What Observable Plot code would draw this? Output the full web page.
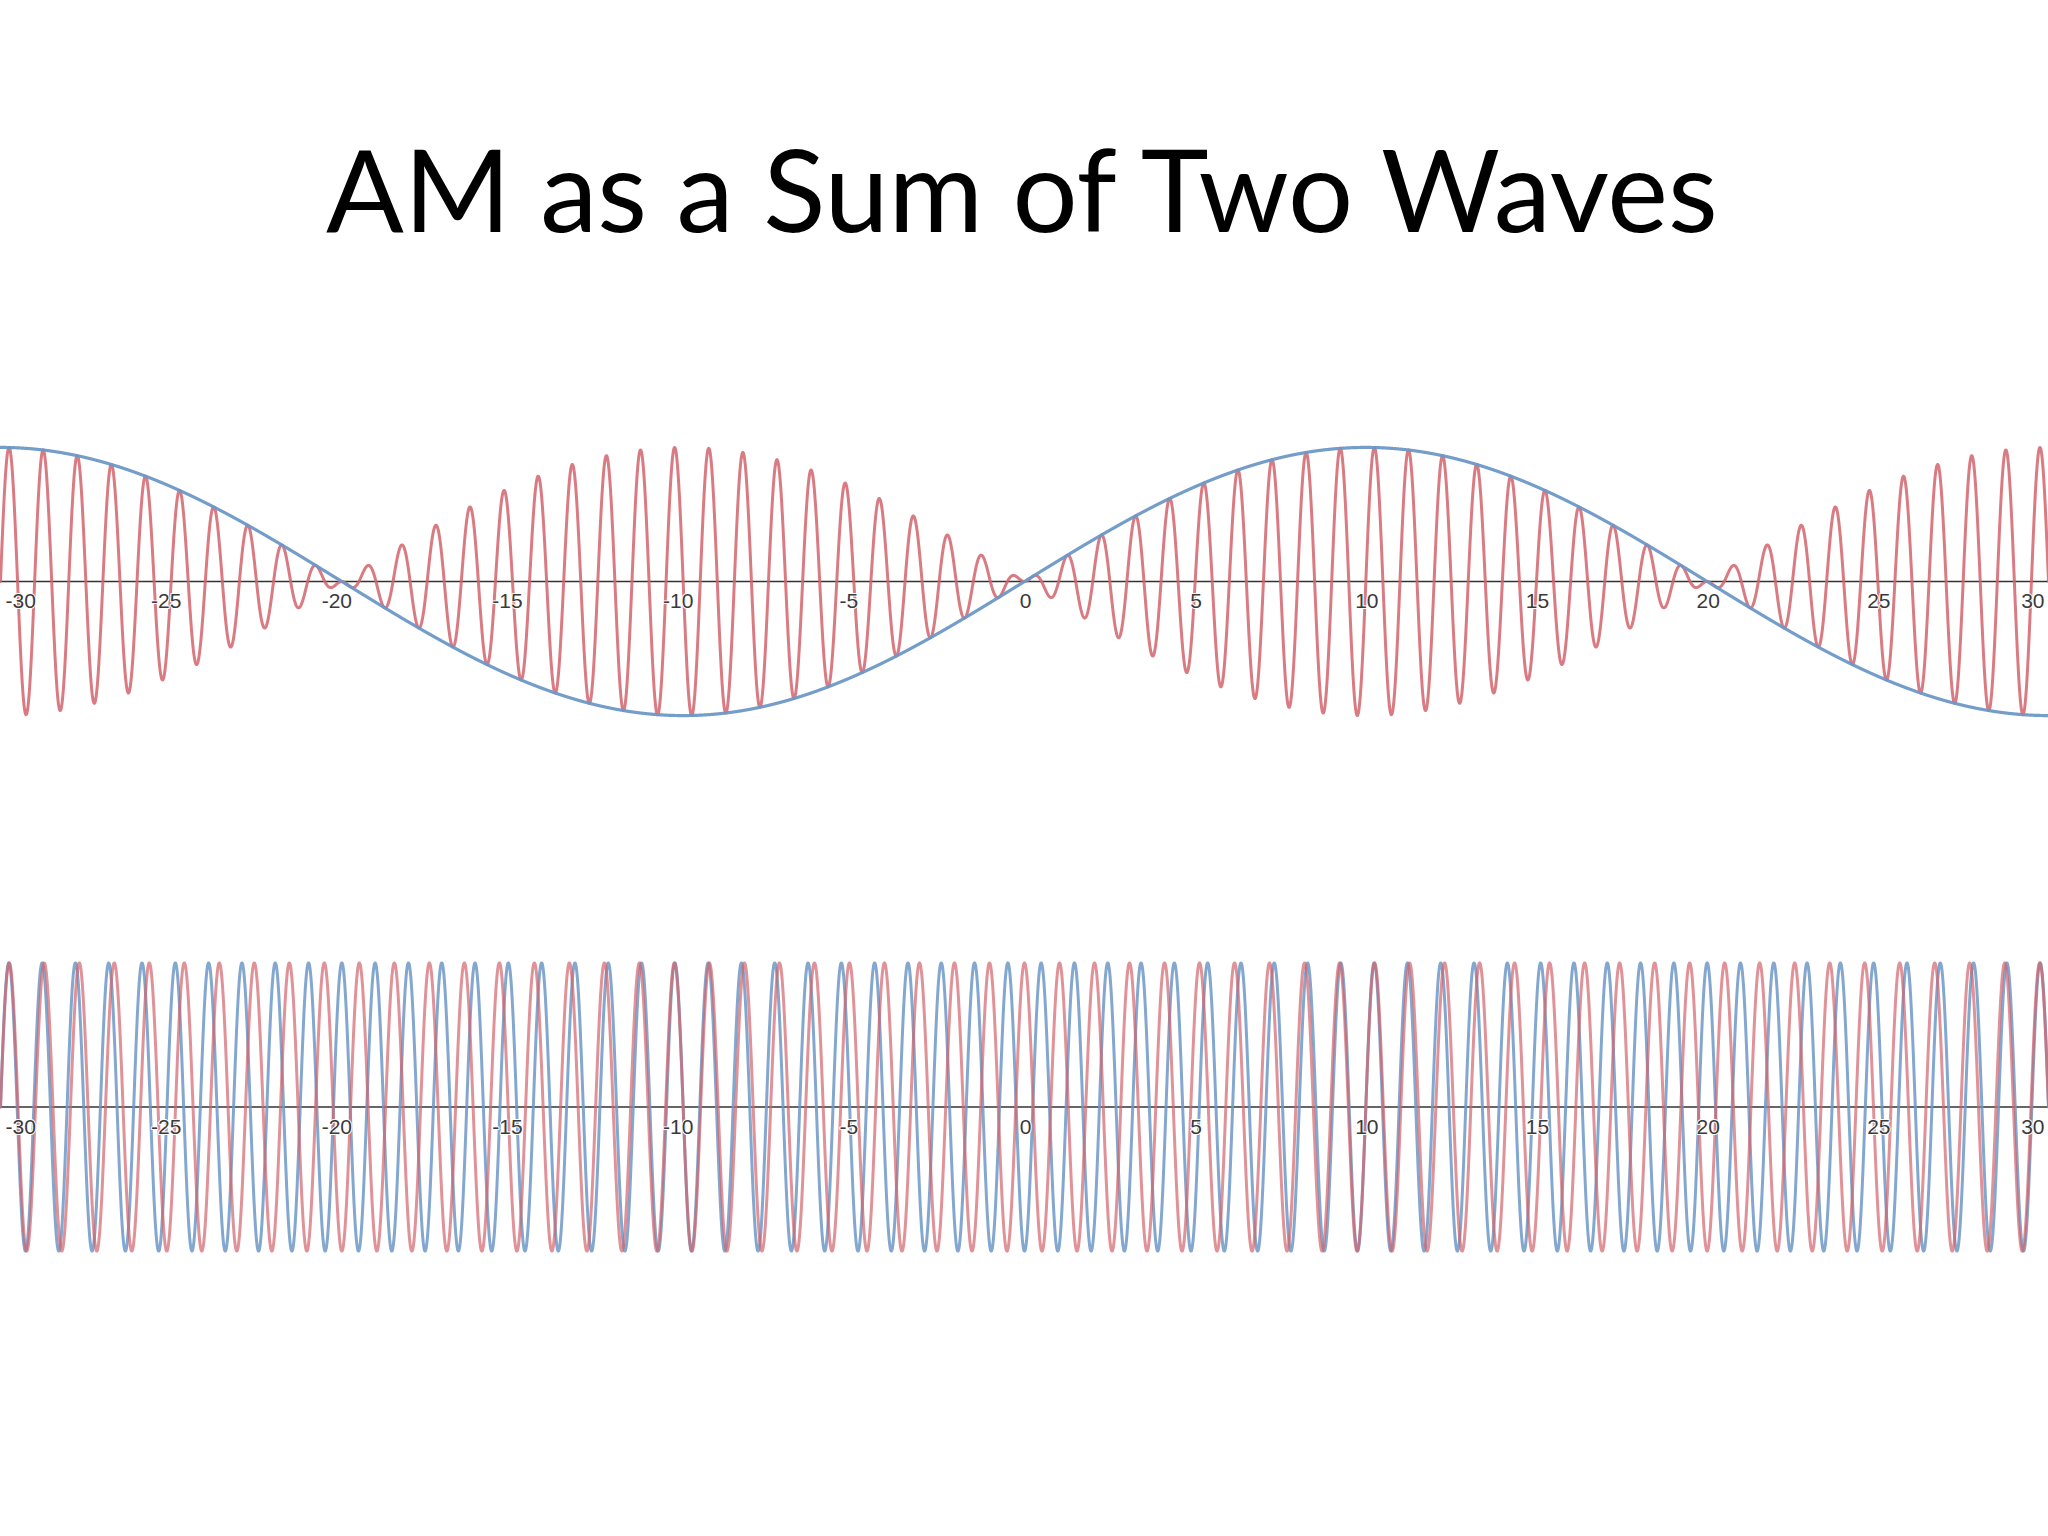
<!DOCTYPE html>
<html>
<head>
<meta charset="utf-8">
<script src="https://cdn.jsdelivr.net/npm/d3@7"></script>
<script src="https://cdn.jsdelivr.net/npm/@observablehq/plot@0.6"></script>
<style>
  html, body { margin: 0; padding: 0; background: #fff; width: 2048px; height: 1536px; overflow: hidden; }
  #title { position: absolute; left: 0; top: 0; }
  #top { position: absolute; left: 0; top: 400px; }
  #bottom { position: absolute; left: 0; top: 912px; }
</style>
</head>
<body>
<svg id="title" width="2048" height="300">
  <text x="1022" y="232" text-anchor="middle" font-family="Lato, 'Open Sans', sans-serif" font-size="115" fill="#000">AM as a Sum of Two Waves</text>
</svg>
<div id="top"></div>
<div id="bottom"></div>
<script>
// ---- data ----
const xTicks = [-30, -25, -20, -15, -10, -5, 0, 5, 10, 15, 20, 25, 30];
const xRange = [-30, 30];
// top chart: envelope (blue) period 40 units, carrier (red) ~1 cycle per unit
const envelopeFreq = [0.025];
const carrierFreq = [1];
// bottom chart: two waves, red slower, blue faster, opposite sign at x = 0
const waveFreqs = [0.975, 1.025];
const waveSigns = [1, -1];
const waveNames = ["red", "blue"];

const RED = "#d2646c";
const BLUE = "#6d98c6";

const step = 0.004;
const xs = d3.range(xRange[0], xRange[1] + step / 2, step);

const envelope = xs.map(x => ({x, y: Math.sin(2 * Math.PI * envelopeFreq[0] * x)}));
const modulated = xs.map(x => ({x, y: Math.sin(2 * Math.PI * envelopeFreq[0] * x) * Math.sin(2 * Math.PI * carrierFreq[0] * x)}));
const waves = waveFreqs.map((f, i) => xs.map(x => ({x, y: waveSigns[i] * Math.cos(2 * Math.PI * f * x), s: waveNames[i]})));

const labelStyle = {
  y: 0,
  dy: 20,
  fontSize: 21,
  fontFamily: "'Liberation Sans', Arial, sans-serif",
  fill: "#3a3a3a",
  stroke: "white",
  strokeWidth: 2,
  text: d => String(d)
};
const negTicks = xTicks.filter(d => d < 0 && d > xRange[0]);
const posTicks = xTicks.filter(d => d >= 0 && d < xRange[1]);

function axisRule() {
  return Plot.ruleY([0], {stroke: "#333", strokeWidth: 1.6});
}
function axisLabels() {
  return [
    Plot.text(negTicks, {...labelStyle, x: d => d, dx: -5, textAnchor: "middle"}),
    Plot.text(posTicks, {...labelStyle, x: d => d, dx: 1, textAnchor: "middle"}),
    Plot.text([xRange[0]], {...labelStyle, x: d => d, dx: 5, textAnchor: "start"}),
    Plot.text([xRange[1]], {...labelStyle, x: d => d, dx: -4, textAnchor: "end"})
  ];
}

const common = {
  width: 2048,
  marginLeft: 0, marginRight: 0, marginTop: 0, marginBottom: 0,
  x: {domain: xRange, axis: null},
  y: {domain: [-1.35, 1.35], axis: null},
  style: {background: "transparent", overflow: "visible"}
};

const topChart = Plot.plot({
  ...common,
  height: 362,
  marks: [
    axisRule(),
    Plot.line(modulated, {x: "x", y: "y", stroke: RED, strokeWidth: 3, strokeOpacity: 0.85}),
    Plot.line(envelope, {x: "x", y: "y", stroke: BLUE, strokeWidth: 3.2, strokeOpacity: 0.95}),
    ...axisLabels()
  ]
});
document.getElementById("top").appendChild(topChart);

const bottomChart = Plot.plot({
  ...common,
  height: 389,
  marks: [
    axisRule(),
    Plot.line(waves[1], {x: "x", y: "y", stroke: BLUE, strokeWidth: 3, strokeOpacity: 0.85}),
    Plot.line(waves[0], {x: "x", y: "y", stroke: RED, strokeWidth: 3, strokeOpacity: 0.7}),
    ...axisLabels()
  ]
});
document.getElementById("bottom").appendChild(bottomChart);
</script>
</body>
</html>
